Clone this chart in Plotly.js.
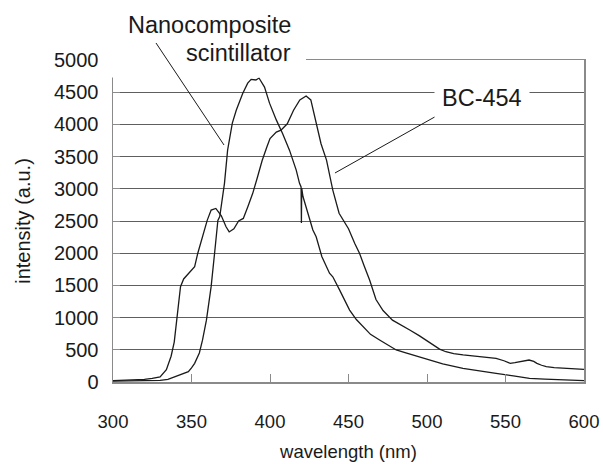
<!DOCTYPE html>
<html>
<head>
<meta charset="utf-8">
<script src="https://cdn.plot.ly/plotly-3.0.1.min.js"></script>
<style>html,body{margin:0;padding:0;background:#fff;}#chart{width:603px;height:464px;}</style>
</head>
<body>
<div id="chart"></div>
<script>
// BC-454 emission spectrum
var bcWavelength = [300,310,320,325,330,334,337,339,341,343,345,347,350,352,354,357,360,362.5,365.5,369,372,374,377,380,383,386,389,392,395,398,400,404,407,411,415,419,423,426,429,432.5,436,440,444,447,450,454,457,460,463.5,467.5,472,478,484,489,495,502,508,512,517,523,530,536,544,549,553,556,559,562,565,568,570,573,576,581,587,593,600];
var bcIntensity = [20,25,40,55,80,190,400,620,1070,1480,1600,1650,1730,1790,2000,2260,2510,2670,2695,2580,2410,2330,2380,2500,2540,2730,2930,3180,3440,3650,3780,3880,3910,4010,4220,4380,4440,4380,4070,3700,3445,2980,2620,2500,2380,2150,2000,1800,1580,1280,1110,960,880,807,720,600,510,470,440,420,405,393,367,330,290,300,315,335,341,320,290,260,238,222,212,205,197];

// Nanocomposite scintillator emission spectrum
var nanoWavelength = [300,310,320,330,335,340,345,348,350,352,355,357,359.5,362.5,364.7,366.8,368,371,373,376,378.5,382.6,385.8,388,391,393,396.5,399.7,404,408,412.4,416.7,418.8,419.8,420,420.2,421,423,427.3,429.4,433,437.9,440,444.3,450.7,455,459.1,464,469.8,475,480.4,486,491,496,501.6,510,522.9,533,544,555,565.3,575,586.6,600];
var nanoIntensity = [15,15,20,25,40,83,130,160,220,290,450,650,960,1480,2000,2510,2570,3085,3600,4020,4220,4480,4640,4700,4690,4720,4580,4330,4070,3860,3600,3290,3085,3030,2470,3010,2880,2720,2360,2255,1950,1690,1634,1430,1117,970,858,740,652,570,497,455,419,380,341,280,212,170,135,95,57,45,31,20];

var xTicks = [300,350,400,450,500,550,600];
var yTicks = [0,500,1000,1500,2000,2500,3000,3500,4000,4500,5000];

var FONT = 'Liberation Sans, Arial, Helvetica, sans-serif';
var lineStyle = {color: '#1a1a1a', width: 1.3};

var traces = [
  {x: bcWavelength, y: bcIntensity, type: 'scatter', mode: 'lines', name: 'BC-454', line: lineStyle},
  {x: nanoWavelength, y: nanoIntensity, type: 'scatter', mode: 'lines', name: 'Nanocomposite scintillator', line: lineStyle}
];

var layout = {
  width: 603, height: 464,
  margin: {l: 113, r: 19, t: 60, b: 82, pad: 0},
  paper_bgcolor: '#fff', plot_bgcolor: '#fff',
  showlegend: false,
  font: {family: FONT, color: '#1a1a1a'},
  xaxis: {
    range: [300, 600], tickvals: xTicks, ticktext: xTicks.map(String),
    ticks: 'inside', ticklen: 8, tickcolor: '#8a8a8a', tickwidth: 1,
    showgrid: false, zeroline: false,
    showline: true, linecolor: '#8a8a8a', linewidth: 1.5, mirror: true,
    tickfont: {size: 18.5, family: FONT, color: '#1a1a1a'},
    ticklabelstandoff: 22,
    title: {text: 'wavelength (nm)', font: {size: 18.5, family: FONT, color: '#1a1a1a'}, standoff: 14}
  },
  yaxis: {
    range: [0, 5000], tickvals: yTicks, ticktext: yTicks.map(String),
    ticks: 'inside', ticklen: 7, tickcolor: '#8a8a8a', tickwidth: 1,
    showgrid: true, gridcolor: '#5e5e5e', gridwidth: 1, zeroline: false,
    showline: true, linecolor: '#8a8a8a', linewidth: 1.5, mirror: true,
    tickfont: {size: 20, family: FONT, color: '#1a1a1a'},
    ticklabelstandoff: 9,
    title: {text: 'intensity (a.u.)', font: {size: 20, family: FONT, color: '#1a1a1a'}, standoff: 18}
  },
  shapes: [
    {type: 'rect', xref: 'paper', yref: 'paper', x0: -0.01, x1: 0.4098, y0: 0.9457, y1: 1.03,
     fillcolor: '#fff', line: {width: 0}, layer: 'above'},
    {type: 'line', xref: 'paper', yref: 'paper', x0: 0.0913, y0: 1.0528, x1: 0.2357, y1: 0.736,
     line: {color: '#1a1a1a', width: 1}, layer: 'above'},
    {type: 'line', xref: 'paper', yref: 'paper', x0: 0.6943, y0: 0.8323, x1: 0.4713, y1: 0.6491,
     line: {color: '#1a1a1a', width: 1}, layer: 'above'}
  ],
  annotations: [
    {text: 'Nanocomposite', xref: 'paper', yref: 'paper', x: 0.3822, y: 1.1087, xanchor: 'right', yanchor: 'middle',
     showarrow: false, font: {size: 23.5, family: FONT, color: '#1a1a1a'}},
    {text: 'scintillator', xref: 'paper', yref: 'paper', x: 0.3822, y: 1.0217, xanchor: 'right', yanchor: 'middle',
     showarrow: false, font: {size: 23.5, family: FONT, color: '#1a1a1a'}},
    {text: 'BC-454', xref: 'paper', yref: 'paper', x: 0.7834, y: 0.882, xanchor: 'center', yanchor: 'middle',
     showarrow: false, bgcolor: '#fff', borderpad: 7, font: {size: 23.5, family: FONT, color: '#1a1a1a'}}
  ]
};

Plotly.newPlot('chart', traces, layout, {displayModeBar: false, staticPlot: true});
</script>
</body>
</html>
